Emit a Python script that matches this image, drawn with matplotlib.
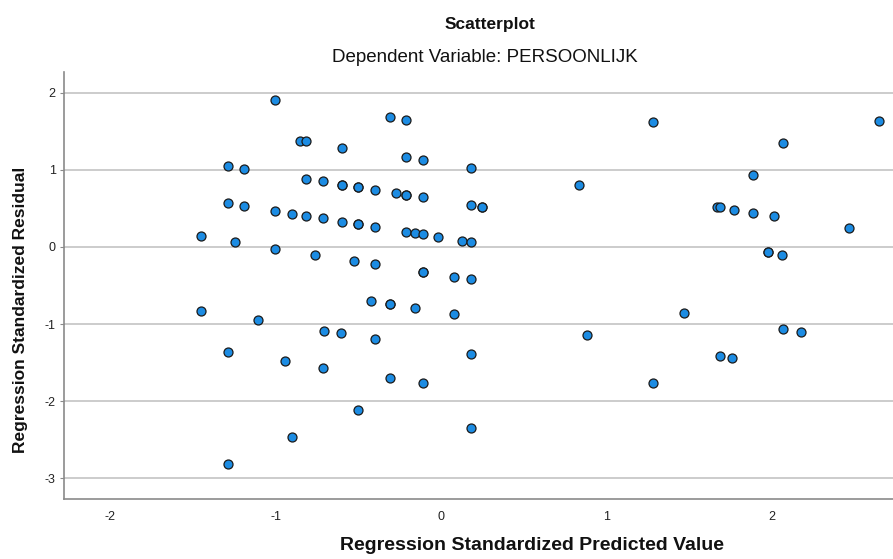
import matplotlib.pyplot as plt

plt.rcParams['font.family'] = ['Liberation Sans', 'DejaVu Sans']
plt.rcParams['axes.unicode_minus'] = False

# standardized predicted values and residuals
pred = [-1.003, -0.854, -0.818, -0.60, -1.29, -1.195, -0.818, -0.713, -0.60, -0.60,
        -1.29, -1.195, -1.003, -0.904, -0.818, -0.713, -0.60, -1.452, -1.247, -1.003,
        -0.765, -1.452, -0.312, -0.216, -0.216, -0.111, 0.179, 0.83, -0.506, -0.506,
        -0.399, -0.276, -0.216, -0.216, -0.111, 0.179, 0.244, 0.244, -0.506, -0.506,
        -0.399, -0.216, -0.161, -0.111, -0.02, 0.127, 0.179, -0.526, -0.399, -0.111,
        -0.111, 0.074, 0.179, -0.423, -0.312, -0.312, -0.161, 0.074, -0.707, -0.604,
        -0.399, 0.88, 0.179, -0.715, -0.312, -0.111, -0.506, 0.179, -1.108, -1.29,
        -0.944, -0.904, -1.29, 1.281, 2.648, 2.068, 1.881, 1.664, 1.682, 1.77,
        1.881, 2.008, 2.463, 1.972, 1.972, 2.06, 1.466, 2.068, 2.171, 1.682,
        1.754, 1.281]
resid = [1.91, 1.38, 1.37, 1.29, 1.05, 1.01, 0.88, 0.85, 0.81, 0.81,
         0.57, 0.53, 0.47, 0.43, 0.40, 0.37, 0.33, 0.14, 0.07, -0.02,
         -0.10, -0.83, 1.68, 1.645, 1.165, 1.13, 1.03, 0.805, 0.78, 0.78,
         0.745, 0.70, 0.68, 0.68, 0.645, 0.545, 0.52, 0.52, 0.30, 0.30,
         0.26, 0.195, 0.18, 0.165, 0.135, 0.078, 0.06, -0.18, -0.22, -0.325,
         -0.325, -0.385, -0.42, -0.70, -0.735, -0.735, -0.79, -0.87, -1.087, -1.12,
         -1.19, -1.14, -1.39, -1.567, -1.70, -1.77, -2.12, -2.355, -0.95, -1.364,
         -1.485, -2.46, -2.81, 1.62, 1.63, 1.345, 0.93, 0.52, 0.515, 0.48,
         0.44, 0.40, 0.24, -0.07, -0.07, -0.10, -0.86, -1.07, -1.105, -1.42,
         -1.445, -1.77]

xticks = [-2, -1, 0, 1, 2]
yticks = [-3, -2, -1, 0, 1, 2]

fig = plt.figure(figsize=(8.93, 5.59), dpi=100)
ax = fig.add_axes([64/893, 60/559, 829/893, 427/559])

ax.scatter(pred, resid, s=42, color='#1c8ce3', edgecolors='#1a1a1a', linewidths=0.9, zorder=3)

ax.set_xlim(-2.28, 2.73)
ax.set_ylim(-3.27, 2.27)
ax.set_xticks(xticks)
ax.set_yticks(yticks)
ax.yaxis.grid(True, color='#cccccc', linewidth=1.4)
ax.set_axisbelow(True)

for side in ['top', 'right']:
    ax.spines[side].set_visible(False)
for side in ['left', 'bottom']:
    ax.spines[side].set_color('#8a8a8a')
    ax.spines[side].set_linewidth(1.2)
ax.tick_params(axis='x', length=0, pad=9, labelsize=9, colors='#222222')
ax.tick_params(axis='y', length=3, pad=3, labelsize=9, colors='#222222')
ax.tick_params(axis='y', color='#8a8a8a')

fig.text(490/893, 1 - 24/559, 'Scatterplot', ha='center', va='center',
         fontsize=12.5, fontweight='bold', color='#111111')
fig.text(485/893, 1 - 58/559, 'Dependent Variable: PERSOONLIJK', ha='center', va='center',
         fontsize=13.5, color='#111111')
fig.text(532/893, 1 - 545/559, 'Regression Standardized Predicted Value', ha='center', va='center',
         fontsize=14, fontweight='bold', color='#111111')
fig.text(21/893, 1 - 310/559, 'Regression Standardized Residual', ha='center', va='center',
         rotation=90, fontsize=12.5, fontweight='bold', color='#111111')

plt.savefig('out.png', dpi=100)
plt.close()
